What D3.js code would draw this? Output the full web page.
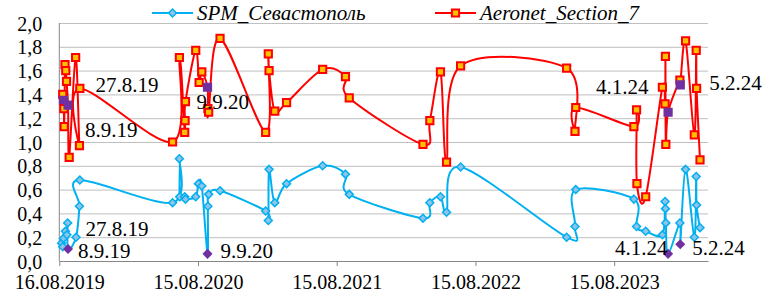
<!DOCTYPE html>
<html>
<head>
<meta charset="utf-8">
<script src="https://d3js.org/d3.v7.min.js"></script>
<style>
    body { margin: 0; background: #fff; }
    svg text { font-family: "Liberation Serif", "DejaVu Serif", serif !important; }
    .gridlines line { stroke: #bfbfbf; }
    .gridlines .domain { stroke: none; }
    .axis .domain, .axis line { stroke: #868686; }
</style>
</head>
<body>
<svg id="chart" width="768" height="300"></svg>
<script>
    // SPM (Sevastopol) series
    const spmDates = [
        "2019-08-22","2019-08-25","2019-08-27","2019-09-01","2019-09-05","2019-09-07","2019-09-08","2019-09-29","2019-10-08","2019-10-09",
        "2020-06-09","2020-06-27","2020-06-28","2020-07-11","2020-07-13","2020-08-09","2020-08-16","2020-08-25","2020-09-09","2020-09-10","2020-09-12","2020-10-12",
        "2021-02-09","2021-02-16","2021-02-18","2021-03-05","2021-04-05","2021-07-09","2021-09-07","2021-09-17",
        "2022-03-30","2022-04-17","2022-05-15","2022-05-31","2022-07-07",
        "2023-04-12","2023-05-04","2023-05-06","2023-10-06","2023-10-13","2023-11-06","2023-12-20","2023-12-27","2023-12-28","2023-12-29",
        "2024-01-04","2024-02-04","2024-02-05","2024-02-19","2024-03-13","2024-03-18","2024-03-19","2024-03-28"];
    const spmValues = [
        0.15,0.12,0.19,0.25,0.22,0.32,0.10,0.20,0.46,0.68,
        0.49,0.86,0.54,0.54,0.52,0.54,0.65,0.63,0.06,0.46,0.56,0.59,
        0.42,0.34,0.77,0.49,0.65,0.80,0.73,0.56,
        0.36,0.49,0.54,0.41,0.79,
        0.20,0.29,0.60,0.52,0.29,0.25,0.22,0.50,0.44,0.32,
        0.06,0.32,0.14,0.77,0.20,0.71,0.47,0.28];

    // Aeronet series
    const aeroDates = [
        "2019-08-25","2019-08-27","2019-08-28","2019-08-29","2019-08-31","2019-09-02","2019-09-04","2019-09-08","2019-09-11","2019-09-28","2019-10-08","2019-10-09",
        "2020-06-09","2020-06-27","2020-07-11","2020-07-12","2020-07-13","2020-08-09","2020-08-18","2020-08-25","2020-09-09","2020-09-10","2020-09-12","2020-10-12",
        "2021-02-09","2021-02-16","2021-02-18","2021-03-05","2021-04-05","2021-07-09","2021-09-07","2021-09-17",
        "2022-03-30","2022-04-17","2022-05-15","2022-05-31","2022-07-07",
        "2023-04-12","2023-05-04","2023-05-06","2023-10-06","2023-10-13","2023-10-14","2023-11-06","2023-12-20","2023-12-27","2023-12-28","2023-12-29",
        "2024-01-04","2024-02-04","2024-02-05","2024-02-19","2024-03-13","2024-03-18","2024-03-19","2024-03-28"];
    const aeroValues = [
        1.40,1.35,1.28,1.13,1.65,1.60,1.51,1.31,0.87,1.71,0.97,1.45,
        1.00,1.71,1.08,1.18,1.34,1.77,1.50,1.59,1.46,1.28,1.25,1.87,
        1.08,1.74,1.60,1.26,1.33,1.61,1.55,1.37,
        0.98,1.18,1.59,0.83,1.64,
        1.62,1.09,1.29,1.13,1.27,0.65,0.54,1.46,1.32,1.72,0.98,
        1.25,1.52,1.48,1.85,1.06,1.77,1.45,0.85];

    const seriesNames = ["SPM_Севастополь", "Aeronet_Section_7"];
    const labelDates = ["2019-08-27","2019-09-08","2020-09-09","2024-01-04","2024-02-05"];
    const labelTexts = ["27.8.19","8.9.19","9.9.20","4.1.24","5.2.24"];
    const spmHighlight = labelDates.slice(1);
    const aeroHighlight = labelDates;

    const xTickLabels = ["16.08.2019","15.08.2020","15.08.2021","15.08.2022","15.08.2023"];
    const xDomain = ["2019-08-16","2024-04-18"];
    const yTicks = [0, 0.2, 0.4, 0.6, 0.8, 1.0, 1.2, 1.4, 1.6, 1.8, 2.0];

    const svg = d3.select("svg#chart");
    const plot = {left: 59.3, right: 708, top: 23, bottom: 261};

    const parseIso = d3.timeParse("%Y-%m-%d");
    const parseTick = d3.timeParse("%d.%m.%Y");

    const xScale = d3.scaleTime().domain(xDomain.map(parseIso)).range([plot.left, plot.right]);
    const yScale = d3.scaleLinear().domain([0, 2]).range([plot.bottom, plot.top]);
    const fmtY = v => d3.format(".1f")(v).replace(".", ",");

    // gridlines
    svg.append("g").attr("class", "gridlines")
        .attr("transform", `translate(${plot.left},0)`)
        .call(d3.axisLeft(yScale).tickValues(yTicks.slice(1)).tickSize(-(plot.right - plot.left)).tickFormat(""));

    // y axis
    const yAxis = svg.append("g").attr("class", "axis")
        .attr("transform", `translate(${plot.left},0)`)
        .call(d3.axisLeft(yScale).tickValues(yTicks).tickSize(0).tickPadding(17).tickFormat(fmtY));
    yAxis.attr("font-size", 20);
    yAxis.selectAll("text").attr("fill", "#000").attr("dy", "0.35em");
    yAxis.select(".domain").remove();
    svg.append("line").attr("x1", plot.left).attr("x2", plot.left)
        .attr("y1", plot.top).attr("y2", plot.bottom).attr("stroke", "#868686");

    // x axis
    const xAxis = svg.append("g").attr("class", "axis")
        .attr("transform", `translate(0,${plot.bottom})`)
        .call(d3.axisBottom(xScale).tickValues(xTickLabels.map(parseTick)).tickSizeInner(5).tickSizeOuter(0)
            .tickPadding(9).tickFormat(d3.timeFormat("%d.%m.%Y")));
    xAxis.attr("font-size", 20);
    xAxis.selectAll("text").attr("fill", "#000");

    const curve = d3.curveCardinal.tension(0);

    function drawSeries(dates, values, highlight, color, marker) {
        const pts = dates.map((d, i) => ({date: parseIso(d), key: d, v: values[i]}));
        const line = d3.line().x(d => xScale(d.date)).y(d => yScale(d.v)).curve(curve);
        const g = svg.append("g");
        g.append("path").datum(pts).attr("d", line)
            .attr("fill", "none").attr("stroke", color.line).attr("stroke-width", 2);
        const sym = d3.symbol().type(marker.type).size(marker.size);
        g.selectAll("path.pt").data(pts).join("path").attr("class", "pt")
            .attr("transform", d => `translate(${xScale(d.date)},${yScale(d.v)})`)
            .attr("d", sym)
            .attr("fill", d => highlight.includes(d.key) ? "#7030a0" : color.fill)
            .attr("stroke", d => highlight.includes(d.key) ? "#7030a0" : color.line)
            .attr("stroke-width", marker.stroke);
        return pts;
    }

    function drawLabels(pts, offsets) {
        labelDates.forEach((ld, i) => {
            const p = pts.find(d => d.key === ld);
            svg.append("text")
                .attr("x", xScale(p.date) + offsets[i][0])
                .attr("y", yScale(p.v) + offsets[i][1])
                .attr("font-size", 21)
                .text(labelTexts[i]);
        });
    }

    const blueColor = {line: "#00b0f0", fill: "#8fc3ea"};
    const redColor = {line: "#ff0000", fill: "#ffc000"};
    const diamond = {type: d3.symbolDiamond2, size: 40, stroke: 1.5};
    const square = {type: d3.symbolSquare, size: 52, stroke: 2};

    const spmPts = drawSeries(spmDates, spmValues, spmHighlight, blueColor, diamond);
    const aeroPts = drawSeries(aeroDates, aeroValues, aeroHighlight, redColor, square);

    drawLabels(spmPts, [[22, -2], [10, 9], [13, 4], [-53, 1], [12, 11]]);
    drawLabels(aeroPts, [[32, -8], [17, 32], [-11, 22], [-72, -18], [29, 5]]);

    // legend
    const legend = [
        {name: seriesNames[0], color: blueColor, marker: diamond, x: 152},
        {name: seriesNames[1], color: redColor, marker: square, x: 435}
    ];
    legend.forEach(l => {
        const g = svg.append("g").attr("transform", `translate(${l.x},13)`);
        g.append("line").attr("x1", 0).attr("x2", 41).attr("stroke", l.color.line).attr("stroke-width", 2);
        g.append("path").attr("transform", "translate(20.5,0)")
            .attr("d", d3.symbol().type(l.marker.type).size(l.marker.size))
            .attr("fill", l.color.fill).attr("stroke", l.color.line).attr("stroke-width", l.marker.stroke);
        g.append("text").attr("x", 45).attr("y", 7)
            .attr("font-size", 21).attr("font-style", "italic")
            .text(l.name);
    });
</script>
</body>
</html>
